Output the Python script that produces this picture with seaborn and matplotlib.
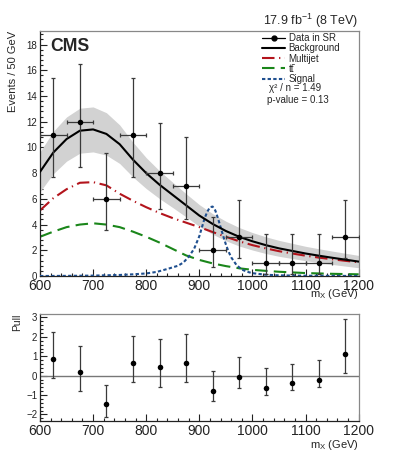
import numpy as np
import pandas as pd
import matplotlib
matplotlib.use("Agg")
import matplotlib.pyplot as plt
from matplotlib.lines import Line2D
from matplotlib.ticker import MultipleLocator
import seaborn as sns

# ---------------- data ----------------
mass = [600, 625, 650, 675, 700, 725, 750, 775, 800, 825, 850, 875, 900,
        925, 950, 975, 1000, 1025, 1050, 1075, 1100, 1125, 1150, 1175, 1200]
background = [8.1, 9.6, 10.65, 11.3, 11.4, 11.05, 10.25, 9.05, 8.0, 7.1, 6.3, 5.5, 4.7,
              4.05, 3.5, 3.05, 2.7, 2.4, 2.15, 1.95, 1.75, 1.58, 1.42, 1.27, 1.12]
background_unc = [1.55, 1.65, 1.72, 1.75, 1.75, 1.65, 1.5, 1.35, 1.2, 1.08, 0.98, 0.9, 0.85,
                  0.8, 0.76, 0.72, 0.68, 0.65, 0.62, 0.59, 0.56, 0.54, 0.52, 0.5, 0.48]
multijet = [5.1, 6.05, 6.75, 7.25, 7.3, 7.05, 6.4, 5.85, 5.35, 4.9, 4.5, 4.15, 3.8,
            3.42, 3.05, 2.7, 2.4, 2.15, 1.93, 1.75, 1.58, 1.43, 1.3, 1.18, 1.07]
ttbar = [3.05, 3.45, 3.8, 4.0, 4.1, 4.0, 3.8, 3.45, 3.05, 2.6, 2.1, 1.6, 1.25,
         0.98, 0.77, 0.6, 0.48, 0.4, 0.33, 0.28, 0.23, 0.2, 0.17, 0.15, 0.13]

signal_mass = [600, 650, 700, 750, 775, 800, 820, 840, 860, 870, 880, 890, 900, 905, 910,
               915, 920, 925, 930, 935, 940, 945, 950, 955, 960, 970, 980, 990, 1000,
               1025, 1050, 1100, 1200]
signal = [0.0, 0.01, 0.03, 0.08, 0.13, 0.2, 0.32, 0.55, 0.8, 1.05, 1.5, 2.1, 3.1, 3.8, 4.5,
          5.0, 5.35, 5.4, 5.1, 4.5, 3.8, 3.1, 2.45, 1.9, 1.45, 0.85, 0.5, 0.33, 0.22,
          0.1, 0.05, 0.02, 0.0]

data_mass = [625, 675, 725, 775, 825, 875, 925, 975, 1025, 1075, 1125, 1175]
data_counts = [11, 12, 6, 11, 8, 7, 2, 3, 1, 1, 1, 3]
data_low = [7.7, 8.5, 3.6, 7.7, 5.2, 4.4, 0.7, 1.4, 0.17, 0.17, 0.17, 1.4]
data_high = [15.4, 16.5, 9.6, 15.4, 11.9, 10.8, 4.6, 5.9, 3.3, 3.3, 3.3, 5.9]
bin_half_width = 25

pull = [0.87, 0.19, -1.46, 0.67, 0.43, 0.67, -0.81, -0.07, -0.64, -0.4, -0.21, 1.13]
pull_low = [-0.14, -0.79, -2.15, -0.33, -0.6, -0.33, -1.29, -0.64, -1.01, -0.76, -0.58, 0.15]
pull_high = [2.23, 1.53, -0.46, 2.04, 1.87, 2.15, 0.22, 0.95, 0.38, 0.6, 0.79, 2.92]

# ---------------- style ----------------
sns.set_theme(style="ticks")
plt.rcParams["font.family"] = ["Liberation Sans", "DejaVu Sans"]
plt.rcParams["mathtext.fontset"] = "custom"
plt.rcParams["mathtext.rm"] = "Liberation Sans"
plt.rcParams["mathtext.it"] = "Liberation Sans:italic"
plt.rcParams["mathtext.bf"] = "Liberation Sans:bold"

RED = "#b3141c"
GREEN = "#1a861a"
BLUE = "#1f4f8f"
ERR = "#3a3a3a"

fig = plt.figure(figsize=(3.99, 4.71), dpi=100)
ax = fig.add_axes([0.10025, 0.41401, 0.7987, 0.5206])
axp = fig.add_axes([0.10025, 0.10679, 0.7987, 0.22654])

curves = pd.DataFrame({"mass": mass, "background": background, "multijet": multijet,
                       "ttbar": ttbar,
                       "lo": np.array(background) - np.array(background_unc),
                       "hi": np.array(background) + np.array(background_unc)})
sig_df = pd.DataFrame({"mass": signal_mass, "signal": signal})

# band
ax.fill_between(curves["mass"], curves["lo"], curves["hi"], color="#d2d2d2", lw=0, zorder=1)

sns.lineplot(data=curves, x="mass", y="ttbar", ax=ax, color=GREEN, lw=1.5,
             linestyle=(0, (6, 3)), zorder=2)
sns.lineplot(data=curves, x="mass", y="multijet", ax=ax, color=RED, lw=1.5,
             linestyle=(0, (6, 2.2, 0.6, 2.2)), zorder=2)
sns.lineplot(data=sig_df, x="mass", y="signal", ax=ax, color=BLUE, lw=1.5,
             linestyle=(0, (1.6, 1.1)), zorder=3)
sns.lineplot(data=curves, x="mass", y="background", ax=ax, color="black", lw=1.5, zorder=4)

yerr = [np.array(data_counts) - np.array(data_low), np.array(data_high) - np.array(data_counts)]
ax.errorbar(data_mass, data_counts, yerr=yerr, xerr=bin_half_width, fmt="none",
            ecolor=ERR, elinewidth=0.9, capsize=1.6, capthick=0.9, zorder=5)
sns.scatterplot(x=data_mass, y=data_counts, ax=ax, color="black", s=16, linewidth=0, zorder=6)

ax.set_xlim(600, 1200)
ax.set_ylim(0, 19.07)
ax.xaxis.set_major_locator(MultipleLocator(100))
ax.xaxis.set_minor_locator(MultipleLocator(20))
ax.yaxis.set_major_locator(MultipleLocator(2))
ax.yaxis.set_minor_locator(MultipleLocator(0.4))

# pull
axp.axhline(0, color="#777777", lw=1.0, zorder=1)
perr = [np.array(pull) - np.array(pull_low), np.array(pull_high) - np.array(pull)]
axp.errorbar(data_mass, pull, yerr=perr, fmt="none", ecolor=ERR, elinewidth=0.9,
             capsize=1.6, capthick=0.9, zorder=2)
sns.scatterplot(x=data_mass, y=pull, ax=axp, color="black", s=16, linewidth=0, zorder=3)
axp.set_xlim(600, 1200)
axp.set_ylim(-2.32, 3.18)
axp.xaxis.set_major_locator(MultipleLocator(100))
axp.xaxis.set_minor_locator(MultipleLocator(20))
axp.yaxis.set_major_locator(MultipleLocator(1))
axp.yaxis.set_minor_locator(MultipleLocator(0.2))

for a in (ax, axp):
    a.tick_params(which="both", direction="in", top=False, right=False, colors="#222222")
    a.tick_params(which="major", length=5, width=0.8)
    a.tick_params(which="minor", length=2.5, width=0.8)
    a.tick_params(axis="x", labelsize=10, pad=2.5)
    a.tick_params(axis="y", labelsize=7, pad=2)
    for side in ("left", "bottom"):
        a.spines[side].set_color("#222222")
        a.spines[side].set_linewidth(0.9)
    for side in ("top", "right"):
        a.spines[side].set_color("#888888")
        a.spines[side].set_linewidth(0.9)
    a.set_xlabel("m$_{\\mathrm{X}}$ (GeV)", fontsize=8, loc="right")

ax.xaxis.set_label_coords(1.0, -0.045)
axp.xaxis.set_label_coords(1.0, -0.16)
ax.set_ylabel("Events / 50 GeV", fontsize=8, loc="top")
ax.yaxis.set_label_coords(-0.068, 1.0)
axp.set_ylabel("Pull", fontsize=7.5, loc="top")
axp.yaxis.set_label_coords(-0.056, 1.0)

# legend
handles = [
    Line2D([], [], color="black", lw=0.9, marker="o", markersize=3.5),
    Line2D([], [], color="black", lw=1.5),
    Line2D([], [], color=RED, lw=1.5, linestyle=(0, (6, 2.2, 0.6, 2.2))),
    Line2D([], [], color=GREEN, lw=1.5, linestyle=(0, (6, 3))),
    Line2D([], [], color=BLUE, lw=1.5, linestyle=(0, (1.6, 1.1))),
]
labels = ["Data in SR", "Background", "Multijet", "tt\u0304", "Signal"]
ax.legend(handles, labels, loc="upper left", bbox_to_anchor=(0.6975, 0.99),
          frameon=False, fontsize=7, handlelength=2.35, handletextpad=0.35,
          labelspacing=0.02, borderpad=0, borderaxespad=0)

fig.text(269.3 / 399, 1 - 88.3 / 471, "χ² / n = 1.49", fontsize=7, va="center", ha="left")
fig.text(267.3 / 399, 1 - 100 / 471, "p-value = 0.13", fontsize=7, va="center", ha="left")

fig.text(50.5 / 399, 1 - 46.7 / 471, "CMS", fontsize=12.7, fontweight="bold",
         va="center", ha="left")
fig.text(358.5 / 399, 1 - 20.7 / 471, "17.9 fb$^{-1}$ (8 TeV)", fontsize=9,
         va="center", ha="right")

fig.savefig("out.png", dpi=100)
